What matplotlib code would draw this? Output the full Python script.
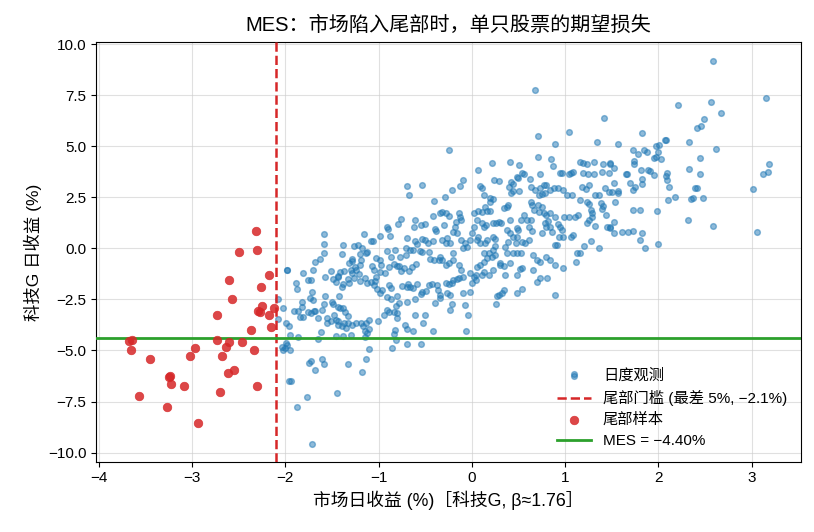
import numpy as np
import matplotlib
matplotlib.use("Agg")
import matplotlib.pyplot as plt

plt.rcParams['font.family'] = ['Liberation Sans', 'Noto Sans CJK SC', 'DejaVu Sans']
plt.rcParams['axes.unicode_minus'] = True

title = "MES：市场陷入尾部时，单只股票的期望损失"
xlabel = "市场日收益 (%)［科技G, β≈1.76］"
ylabel = "科技G 日收益 (%)"
threshold = -2.1
mes = -4.40
leg_obs = "日度观测"
leg_thr = "尾部门槛 (最差 5%, −2.1%)"
leg_tail = "尾部样本"
leg_mes = "MES = −4.40%"

# tail sample (market return <= threshold)
tail_points = [(-2.31,0.83),(-2.30,-0.10),(-2.50,-0.20),(-2.17,-1.31),(-2.60,-1.55),(-2.26,-1.91),
    (-2.57,-2.50),(-2.25,-2.83),(-2.29,-3.05),(-2.27,-3.10),(-2.12,-2.94),(-2.73,-3.28),(-2.17,-3.24),
    (-2.15,-3.86),(-2.37,-4.00),(-3.68,-4.53),(-3.64,-4.50),(-2.73,-4.50),(-2.60,-4.61),(-2.46,-4.61),
    (-2.64,-4.85),(-2.97,-4.89),(-2.34,-4.99),(-3.66,-4.99),(-3.02,-5.25),(-2.68,-5.28),(-3.45,-5.44),
    (-2.55,-5.98),(-2.61,-6.11),(-3.24,-6.23),(-3.25,-6.29),(-3.23,-6.62),(-3.09,-6.72),(-2.30,-6.75),
    (-2.70,-7.04),(-3.57,-7.25),(-3.27,-7.75),(-2.94,-8.53)]

obs_left = [(-0.70,3.06),(-0.53,3.10),(-0.67,2.61),(-0.41,2.30),(-0.42,1.57),(-0.61,1.39),(-0.76,1.42),
    (-0.79,1.18),(-0.62,1.03),(-0.55,1.14),(-0.50,1.19),(-0.39,0.96),(-0.38,0.87),(-0.91,1.03),(-0.90,0.93),
    (-0.88,0.60),(-0.98,0.60),(-1.16,0.69),(-1.08,0.36),(-1.06,0.36),(-1.58,0.70),(-1.59,0.20),(-1.38,0.16),
    (-1.26,0.11),(-1.22,0.16),(-1.18,0.03),(-1.13,-0.25),(-1.20,-0.28),(-1.28,-0.51),(-1.39,-0.29),(-1.59,-0.25),
    (-1.63,-0.54),(-1.68,-0.69),(-1.70,-1.06),(-1.57,-1.39),(-1.51,-1.13),(-1.49,-1.52),(-1.43,-1.36),
    (-1.41,-1.14),(-1.37,-1.13),(-1.32,-0.74),(-1.28,-0.62),(-1.25,-0.90),(-1.20,-0.82),(-1.19,-0.57),
    (-1.12,-0.19),(-1.07,-0.87),(-1.03,-0.49),(-0.98,-0.57),(-0.97,-0.82),(-0.91,-0.11),(-0.87,-0.44),
    (-0.82,-0.08),(-0.80,-0.87),(-0.77,-0.41),(-0.71,-0.34),(-0.71,0.03),(-0.70,0.49),(-0.66,-0.07),
    (-0.63,-0.08),(-0.61,0.38),(-0.59,0.20),(-0.53,0.44),(-0.50,0.41),(-0.47,0.25),(-0.42,0.38),(-0.46,-0.16),
    (-0.53,-0.16),(-0.56,-0.13),(-0.45,-0.54),(-0.41,-0.57),(-0.35,-0.57),(-0.60,-0.78),(-0.64,-0.93),
    (-0.67,-1.11),(-0.73,-0.98),(-0.76,-1.09),(-0.78,-0.85),(-0.83,-0.78),(-0.89,-0.93),(-0.93,-1.23),
    (-0.98,-1.16),(-1.03,-1.39),(-1.05,-1.06),(-1.15,-1.47),(-1.20,-1.58),(-1.26,-1.47),(-1.28,-1.19),
    (-1.30,-1.06),(-1.24,-1.06),(-1.21,-1.26),(-1.12,-1.72),(-1.08,-1.63),(-1.04,-1.58),(-1.05,-1.80),
    (-1.02,-2.01),(-0.96,-2.04),(-0.98,-2.21),(-0.89,-1.80),(-0.87,-1.93),(-0.91,-2.37),(-0.87,-2.48),
    (-0.80,-2.34),(-0.75,-1.83),(-0.68,-1.76),(-0.70,-1.88),(-0.66,-1.88),(-0.59,-1.76),(-0.53,-2.12),
    (-0.54,-2.25),(-0.49,-2.08),(-0.46,-1.80),(-0.43,-1.76),(-0.37,-1.80),(-0.36,-2.04),(-0.34,-2.29),
    (-0.39,-2.70),(-0.61,-2.50),(-0.63,-1.93),(-0.70,-2.61),(-0.78,-2.70),(-0.81,-2.81),(-0.83,-3.10),
    (-0.89,-3.14),(-0.94,-3.27),(-0.91,-3.02),(-0.80,-3.17),(-0.80,-3.40),(-0.72,-3.73),(-0.69,-3.95),
    (-0.63,-4.04),(-0.42,-4.04),(-0.52,-3.68),(-0.50,-3.24),(-0.61,-3.27),(-0.82,-4.00),(-0.83,-4.17),
    (-0.81,-4.49),(-0.86,-4.90),(-0.70,-4.66),(-0.54,-4.66),(-1.01,-3.56),(-1.10,-3.51),(-1.17,-3.81),
    (-1.15,-4.04),(-1.19,-3.68),(-1.28,-3.73),(-1.33,-3.68),(-1.37,-3.68),(-1.39,-3.81),(-1.43,-3.76),
    (-1.44,-3.55),(-1.46,-3.51),(-1.48,-3.25),(-1.49,-2.73),(-1.50,-2.61),(-1.44,-2.86),(-1.41,-2.91),
    (-1.38,-2.91),(-1.36,-3.10),(-1.33,-3.30),(-1.42,-2.32),(-1.39,-1.91),(-1.38,-1.75),(-1.32,-1.72),
    (-1.33,-1.50),(-1.43,-1.39),(-1.46,-1.67),(-1.57,-2.32),(-1.58,-2.73),(-1.61,-3.02),(-1.65,-3.43),
    (-1.69,-3.07),(-1.70,-2.53),(-1.71,-2.16),(-1.74,-2.45),(-1.76,-1.55),(-1.73,-1.54),(-1.81,-1.21),
    (-1.89,-1.68),(-1.88,-1.99),(-1.98,-1.06),(-2.03,-2.94),(-1.96,-3.81),(-1.99,-3.68),(-1.95,-4.26),
    (-1.91,-3.09),(-1.86,-3.07),(-1.84,-3.35),(-1.81,-3.35),(-1.82,-2.65),(-1.82,-2.86),(-1.76,-3.10),
    (-1.72,-3.17),(-1.68,-3.06),(-1.55,-3.42),(-1.62,-4.12),(-1.65,-4.46),(-1.46,-4.28),(-1.38,-4.28),
    (-1.30,-4.25),(-1.15,-4.33),(-1.12,-4.13),(-1.10,-3.95),(-1.14,-3.68),(-1.24,-3.68),(-1.35,-3.89),
    (-1.75,-5.59),(-1.72,-5.51),(-1.68,-5.96),(-1.61,-5.42),(-1.58,-5.64),(-1.33,-5.64),(-1.14,-5.44),
    (-1.10,-4.95),(-1.18,-6.06),(-1.45,-7.06),(-1.77,-7.30),(-1.88,-7.75),(-1.94,-6.50),(-1.71,-9.56),
    (-2.02,-5.00),(-2.04,-4.82),(-1.99,-4.62),(-1.95,-4.98),(-1.98,-4.71),(-2.08,-3.48),(-1.86,-4.36),
    (-1.55,-3.68),(-1.51,-3.55),(-2.08,-2.50),(-2.00,-4.90),(-1.98,-1.08),(-1.96,-6.50)]

obs_mid = [(0.68,7.75),(1.42,6.37),(1.04,5.68),(0.71,5.49),(0.89,5.10),(-0.24,4.80),(1.34,5.19),
    (0.71,4.46),(0.85,4.36),(0.22,4.18),(0.41,4.23),(0.51,4.07),(1.16,4.24),(1.19,4.20),(1.23,4.15),
    (1.31,4.24),(1.41,4.15),(1.48,4.12),(0.07,3.84),(0.54,3.69),(0.56,3.66),(0.87,4.02),(0.95,3.67),
    (0.97,3.67),(1.04,3.66),(1.06,3.67),(1.09,3.76),(1.19,3.67),(1.25,3.62),(1.31,3.66),(1.40,3.74),
    (1.47,3.67),(0.73,3.66),(0.62,3.38),(0.48,3.51),(0.50,3.43),(-0.09,3.35),(-0.13,3.03),(-0.21,2.84),
    (-0.29,2.50),(0.24,3.35),(0.29,3.30),(0.09,3.05),(0.11,2.94),(0.13,2.61),(0.42,3.27),(0.44,3.17),
    (0.40,3.00),(0.42,2.70),(0.44,2.81),(0.63,3.02),(0.68,2.86),(0.73,2.94),(0.77,3.09),(0.80,3.09),
    (0.51,2.79),(0.72,2.61),(0.75,2.65),(0.78,2.70),(0.84,2.86),(0.88,2.94),(0.92,2.97),(0.98,2.86),
    (1.02,2.61),(1.07,2.61),(1.18,3.02),(1.22,2.89),(1.26,3.09),(1.32,2.61),(1.36,2.61),(1.43,2.94),
    (1.47,2.78),(1.16,2.37),(1.23,2.29),(1.26,2.16),(1.28,1.88),(1.29,1.72),(1.39,2.24),(1.41,2.07),
    (1.40,1.91),(1.44,1.63),(1.45,1.06),(1.48,1.06),(1.28,0.34),(1.36,0.03),(1.20,0.11),(1.13,-0.25),
    (1.12,-0.65),(1.16,-0.25),(1.09,0.64),(1.06,0.57),(0.99,1.55),(1.04,1.55),(1.11,1.55),(1.14,1.63),
    (0.89,1.55),(0.92,1.19),(0.95,1.06),(0.97,0.90),(0.84,1.06),(0.86,0.82),(0.89,0.16),(0.91,0.16),
    (0.93,0.57),(0.98,0.57),(0.78,1.22),(0.80,1.06),(0.82,1.35),(0.75,0.73),(0.63,2.27),(0.65,2.12),
    (0.71,2.12),(0.72,1.80),(0.67,1.88),(0.75,2.04),(0.77,1.72),(0.56,1.63),(0.59,1.39),(0.64,0.86),
    (0.61,0.41),(0.57,0.24),(0.54,0.33),(0.66,-0.33),(0.70,-0.57),(0.66,-1.06),(0.73,-1.47),(0.70,-1.63),
    (0.81,-1.47),(0.89,-2.29),(0.73,-0.65),(0.80,-0.41),(0.84,-0.57),(0.89,-0.82),(0.98,-0.98),
    (0.53,-0.25),(0.48,-0.25),(0.44,-0.25),(0.38,-0.25),(0.54,-0.98),(0.52,-1.03),(0.48,-1.31),
    (0.54,-2.01),(0.48,-2.21),(0.41,-0.74),(0.36,-1.31),(0.35,-0.85),(0.34,-2.04),(0.32,-2.21),
    (0.29,-2.29),(0.27,-2.34),(0.26,-2.73),(0.36,0.08),(0.39,0.33),(0.47,0.24),(0.48,0.57),(0.44,0.57),
    (0.41,0.73),(0.38,0.90),(0.48,0.98),(0.50,0.90),(0.53,1.39),(0.41,1.39),(0.39,2.12),(0.38,2.04),
    (0.34,1.96),(0.29,1.31),(0.31,1.26),(0.20,2.45),(0.23,2.40),(0.19,2.29),(0.16,1.84),(0.20,1.83),
    (0.23,1.22),(0.26,1.26),(0.14,2.01),(0.11,1.80),(0.07,1.85),(0.02,1.72),(0.06,1.39),(0.11,1.22),
    (0.13,1.06),(0.15,1.14),(0.07,0.57),(0.06,0.41),(0.09,0.28),(0.14,0.24),(0.16,0.41),(0.23,0.57),
    (0.25,0.44),(0.25,0.11),(0.23,-0.08),(0.18,-0.25),(0.13,-0.21),(0.02,1.06),(0.00,0.73),(-0.02,0.41),
    (-0.05,0.08),(-0.09,0.00),(-0.07,0.24),(-0.12,0.41),(-0.16,0.73),(-0.20,0.82),(-0.18,1.06),
    (-0.14,1.72),(-0.13,1.55),(-0.12,1.39),(-0.17,1.31),(-0.24,1.58),(-0.28,1.72),(-0.32,1.80),
    (-0.34,1.72),(-0.30,1.14),(-0.27,0.49),(-0.23,0.24),(-0.28,0.24),(-0.32,0.41),(-0.20,-0.25),
    (-0.20,-0.57),(-0.25,-0.70),(-0.28,-0.82),(-0.32,-0.57),(-0.34,-0.41),(-0.14,-0.82),(-0.12,-1.06),
    (-0.09,-1.39),(-0.14,-1.47),(-0.20,-1.55),(-0.16,-1.52),(0.02,-1.39),(0.04,-1.31),(0.05,-1.55),
    (0.00,-1.72),(-0.02,-1.23),(-0.28,-1.72),(-0.25,-1.75),(-0.21,-1.72),(-0.27,-2.21),(-0.23,-2.29),
    (-0.21,-2.73),(-0.23,-3.03),(-0.09,-2.21),(-0.07,-2.78),(-0.02,-2.14),(-0.04,-3.27),(-0.06,-4.07),
    (-0.34,-2.45),(0.09,-0.82),(0.13,-0.65),(0.16,-0.49),(0.22,-0.41),(0.25,-0.33),(0.30,-0.74),
    (0.30,-0.82),(0.18,-1.31),(0.23,-1.06),(0.13,-1.14),(0.11,-1.31),(0.06,-0.90),(1.10,-6.13),
    (0.63,1.39),(0.61,1.06),(0.84,1.71),(0.80,1.63),(1.23,1.22),(1.26,1.39),(1.29,1.55),(1.32,1.09)]

obs_right = [(2.59,9.16),(3.15,7.35),(2.21,7.01),(2.57,7.15),(2.67,6.63),(2.49,6.32),(2.46,5.98),
    (2.41,5.88),(1.82,5.63),(1.57,5.09),(2.08,5.29),(2.07,5.28),(2.01,5.05),(1.98,4.99),(2.33,5.21),
    (2.62,4.87),(1.73,4.82),(1.78,4.61),(1.85,4.82),(1.88,4.70),(2.00,4.74),(1.97,4.46),(1.95,4.41),
    (2.03,4.38),(2.45,4.41),(1.74,4.28),(1.74,4.12),(1.53,3.94),(1.48,4.17),(1.81,3.84),(1.89,3.84),
    (1.91,3.79),(1.95,3.59),(1.65,3.64),(1.66,3.64),(2.33,3.89),(2.45,3.63),(2.09,3.68),(2.08,3.56),
    (2.09,3.35),(2.11,3.00),(1.82,3.39),(1.83,3.15),(1.75,3.02),(1.70,3.18),(1.73,2.86),(1.52,3.18),
    (1.50,2.76),(1.57,2.83),(1.57,2.70),(1.54,2.26),(2.39,2.94),(2.41,2.94),(2.35,2.40),(2.37,2.45),
    (2.48,2.45),(2.18,2.50),(2.10,2.35),(3.02,2.89),(3.12,3.62),(3.18,3.75),(3.19,4.11),(3.06,0.78),
    (2.59,1.09),(2.32,1.37),(1.73,1.86),(1.80,1.86),(1.99,1.81),(1.53,1.27),(1.48,0.98),(1.53,0.73),
    (1.61,0.78),(1.68,0.78),(1.73,0.83),(1.82,0.73),(1.80,0.40),(1.86,0.00),(2.00,0.21)]

obs = np.array(obs_left + obs_mid + obs_right)
tail = np.array(tail_points)

fig = plt.figure(figsize=(8.14, 5.32), dpi=100)
ax = fig.add_axes([0.118, 0.132, 0.866, 0.789])

ax.scatter(obs[:, 0], obs[:, 1], s=17, color='#1f77b4', alpha=0.5, linewidths=1.0,
           label=leg_obs, zorder=2)
ax.axvline(threshold, color='#d62728', linestyle='--', linewidth=1.8, label=leg_thr, zorder=3)
ax.scatter(tail[:, 0], tail[:, 1], s=38, color='#d62728', alpha=0.85, linewidths=0.5,
           label=leg_tail, zorder=4)
ax.axhline(mes, color='#2ca02c', linewidth=2.0, label=leg_mes, zorder=3)

ax.set_xlim(-4.03, 3.53)
ax.set_ylim(-10.45, 10.1)
ax.set_xticks([-4, -3, -2, -1, 0, 1, 2, 3])
ax.set_yticks([-10, -7.5, -5, -2.5, 0, 2.5, 5, 7.5, 10])
ax.grid(True, color='#cccccc', alpha=0.6, linewidth=0.8)
ax.set_axisbelow(True)
ax.tick_params(labelsize=11)

ax.set_title(title, fontsize=14.5, pad=8)
ax.set_xlabel(xlabel, fontsize=12.8)
ax.set_ylabel(ylabel, fontsize=12.5)

ax.legend(loc='lower right', frameon=False, fontsize=11, bbox_to_anchor=(1.0, 0.0),
          borderaxespad=0.5, handlelength=2.2, scatterpoints=1, labelspacing=0.45)

fig.savefig('out.png', dpi=100)
